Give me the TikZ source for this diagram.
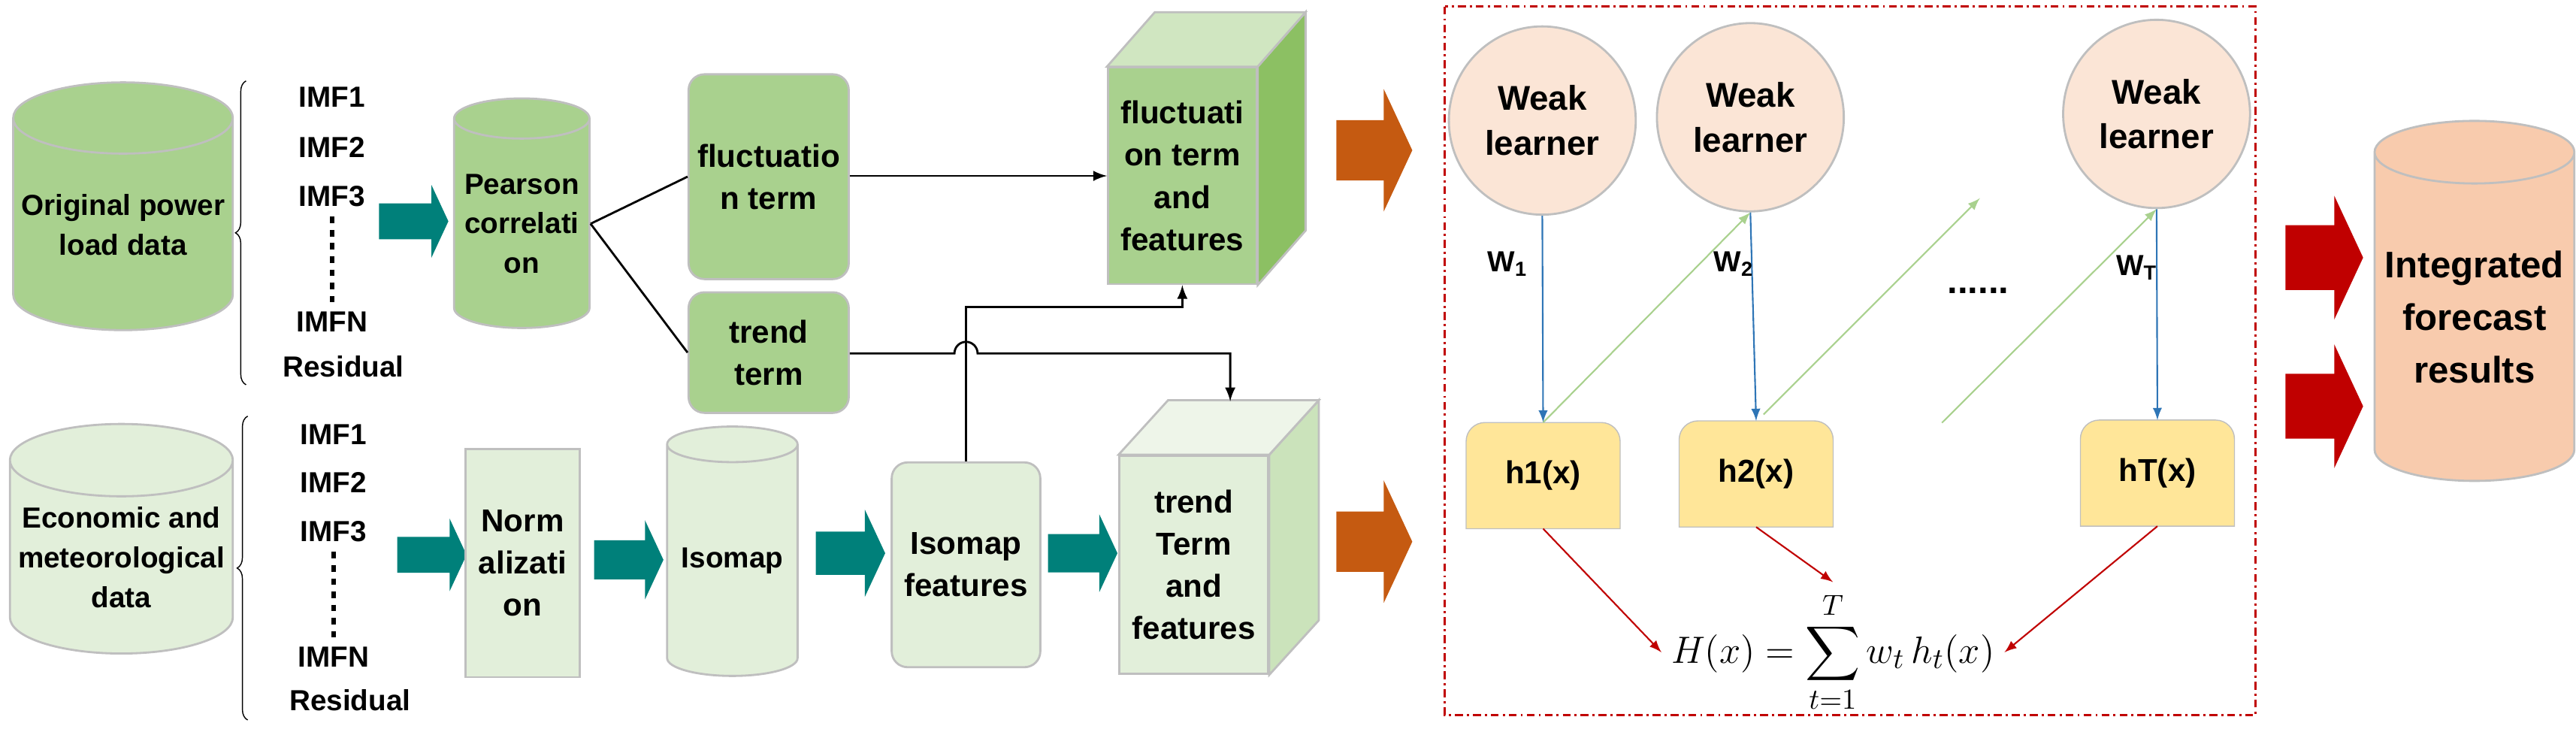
\documentclass[tikz,border=0pt]{standalone}
\usepackage{fontspec}
\setmainfont{Liberation Sans}
\usepackage{amsmath}
\usetikzlibrary{shapes.geometric,shapes.arrows,decorations.pathreplacing,backgrounds,positioning,arrows,calc}
\definecolor{leaf}{HTML}{A9D18E}
\definecolor{mint}{HTML}{E2EFDA}
\definecolor{edge}{HTML}{BFBFBF}
\definecolor{teal}{HTML}{00807A}
\definecolor{rust}{HTML}{C55A11}
\definecolor{crimson}{HTML}{C00000}
\definecolor{peach}{HTML}{FBE5D6}
\definecolor{butter}{HTML}{FFE699}
\definecolor{salmon}{HTML}{F8CBAD}
\definecolor{azure}{HTML}{2E75B6}
\definecolor{moss}{HTML}{8CC063}
\tikzset{
    box/.style={
           draw=edge, fill=#1,
           inner sep=1pt,
           align=center,
           font=\bfseries\fontsize{12}{16}\selectfont
           },
    drum/.style={
           cylinder, shape border rotate=90,
           draw=edge, cylinder uses custom fill,
           cylinder body fill=#1, cylinder end fill=#1,
           inner sep=0pt, aspect=0.35,
           align=center,
           font=\bfseries\fontsize{11}{15}\selectfont
           },
    size/.style 2 args={
           minimum width=#1*0.02197cm,
           minimum height=#2*0.02197cm
           },
    fat/.style={
           single arrow, draw=none, fill=#1,
           inner xsep=0pt,
           single arrow tip angle=130
           },
    imf/.style={
           font=\bfseries\fontsize{11}{13}\selectfont
           }
}
% side and top faces of a box drawn as a cube
\newcommand\cubefaces[5]{%
  \path[fill=#4, draw=edge] (#1.north east) -- ++(#2,-#3) -- ($(#1.south east)+(#2,-#3)$) -- (#1.south east) -- cycle;
  \path[fill=#5, draw=edge] (#1.north west) -- ++(#2,-#3) -- ($(#1.north east)+(#2,-#3)$) -- (#1.north east) -- cycle;
}
\begin{document}
\begin{tikzpicture}[x=0.02197cm, y=-0.02197cm, >=latex, thick]
\useasboundingbox (0,0) rectangle (1560,443);

   % upper branch: power load
   \node[drum=leaf, size={133}{150}] (load) at (74.5,136) {Original power\\load data};
   \draw[thin, decorate, decoration={brace, amplitude=4pt}] (149,233) -- (149,49);
   \node[imf] (a1) at (201,59)  {IMF1};
   \node[imf] (a2) at (201,89)  {IMF2};
   \node[imf] (a3) at (201,119) {IMF3};
   \node[imf] (an) at (201,195) {IMFN};
   \node[imf] (ar) at (208,222) {Residual};
   \draw[line width=1.6pt, dash pattern=on 2.5pt off 2.5pt] (a3.south) -- (an.north);
   \node[fat=teal, size={44}{42}, inner ysep=0.22cm, single arrow head extend=0.24cm] (t1) at (248,134) {};
   \node[drum=leaf, size={82}{139}] (pear) at (316,135.5) {Pearson\\correlati\\on};
   \node[box=leaf, rounded corners=6pt, size={97}{124}] (fluct) at (465.5,107) {fluctuatio\\n term};
   \node[box=leaf, rounded corners=6pt, size={97}{73}] (trend) at (465.5,213.5) {trend\\term};
   \node[box=leaf, size={90}{131}] (ff) at (716,106.5) {fluctuati\\on term\\and\\features};
   \cubefaces{ff}{29}{33}{moss}{leaf!55!white}

   % lower branch: economic and meteorological data
   \node[drum=mint, size={135}{139}] (econ) at (73.5,337.5) {Economic and\\meteorological\\data};
   \draw[thin, decorate, decoration={brace, amplitude=4pt}] (150,436) -- (150,252);
   \node[imf] (b1) at (202,263) {IMF1};
   \node[imf] (b2) at (202,292) {IMF2};
   \node[imf] (b3) at (202,322) {IMF3};
   \node[imf] (bn) at (202,398) {IMFN};
   \node[imf] (br) at (212,424) {Residual};
   \draw[line width=1.6pt, dash pattern=on 2.5pt off 2.5pt] (b3.south) -- (bn.north);
   \node[fat=teal, size={44}{42}, inner ysep=0.22cm, single arrow head extend=0.24cm] (t2) at (259,336) {};
   \node[box=mint, size={69}{138}] (norm) at (316.5,341) {Norm\\alizati\\on};
   \node[fat=teal, size={48}{42}, inner ysep=0.22cm, single arrow head extend=0.24cm] (t3) at (378,339) {};
   \node[drum=mint, size={79}{151}] (iso) at (443.5,339.5) {Isomap};
   \node[fat=teal, size={53}{42}, inner ysep=0.22cm, single arrow head extend=0.24cm] (t4) at (512,335) {};
   \node[box=mint, rounded corners=6pt, size={90}{124}] (isof) at (585,342) {Isomap\\features};
   \node[fat=teal, size={47}{42}, inner ysep=0.22cm, single arrow head extend=0.24cm] (t5) at (653,335) {};
   \node[box=mint, size={90}{132}] (tf) at (723,342) {trend\\Term\\and\\features};
   \cubefaces{tf}{30}{33}{leaf!60!white}{mint!60!white}

   \node[fat=rust, size={74}{46}, inner ysep=0.24cm, single arrow head extend=0.26cm] (o1) at (828,91) {};
   \node[fat=rust, size={74}{46}, inner ysep=0.24cm, single arrow head extend=0.26cm] (o2) at (828,328) {};

   % connectors of the two branches
   \coordinate (ttop) at (745,243);
   \coordinate (hopL) at (578,214);
   \coordinate (bend) at (585,186);
   \draw (pear.east) -- (fluct.west);
   \draw (pear.east) -- (trend.west);
   \draw[->] (fluct.east |- ff.west) -- (ff.west);
   \draw[->] (trend.east |- hopL) -- (hopL) arc[start angle=180, end angle=0, radius=0.154cm] -| (ttop);
   \draw[->] (isof.north) -- (bend) -| (ff.south);

   % boosting ensemble
   \draw[crimson, dash pattern=on 3pt off 1.5pt on 0.8pt off 1.5pt] (875,4) rectangle (1366,433);
   \foreach \n/\x/\y in {wl1/934/73, wl2/1060/71, wl3/1306/69}
     \node[ellipse, draw=edge, fill=peach, size={112}{114}, align=center,
           font=\bfseries\fontsize{13}{17}\selectfont] (\n) at (\x,\y) {Weak\\learner};
   \foreach \n/\x/\y/\t in {h1/934.5/288/h1(x), h2/1063.5/287/h2(x), hT/1306.5/286.5/hT(x)}
     \node[font=\bfseries\fontsize{12}{15}\selectfont, size={92}{63}] (\n) at (\x,\y) {\t};
   \begin{scope}[on background layer]
     \foreach \n in {h1,h2,hT}
       \path[fill=butter, draw=edge, thin] (\n.south west) [rounded corners=0.25cm] -- (\n.north west) -- (\n.north east) [sharp corners] -- (\n.south east) -- cycle;
   \end{scope}
   \foreach \a/\b in {wl1/h1, wl2/h2, wl3/hT}
     \draw[->, azure, semithick] (\a.south) -- (\b.north);
   \node[imf] (w1) at (913,160) {W$_{\text{1}}$};
   \node[imf] (w2) at (1050,160) {W$_{\text{2}}$};
   \node[imf] (wT) at (1294,162) {W$_{\text{T}}$};
   \coordinate (g2s) at (1068,251);
   \coordinate (g2e) at (1199,120);
   \coordinate (g3s) at (1176,256);
   \draw[->, leaf, semithick] (h1.north) -- (wl2.south);
   \draw[->, leaf, semithick] (g2s) -- (g2e);
   \draw[->, leaf, semithick] (g3s) -- (wl3.south);
   \node[font=\bfseries\fontsize{14}{14}\selectfont] (dots) at (1198,176) {......};
   \node[font=\fontsize{15}{18}\selectfont] (Hx) at (1110,395) {$\displaystyle H(x)=\sum_{t=1}^{T}w_t\,h_t(x)$};
   \draw[->, crimson, semithick] (h1.south) -- (Hx.west);
   \draw[->, crimson, semithick] (h2.south) -- (Hx.north);
   \draw[->, crimson, semithick] (hT.south) -- (Hx.east);

   % output
   \node[fat=crimson, size={75}{47}, inner ysep=0.26cm, single arrow head extend=0.25cm] (r1) at (1403,156) {};
   \node[fat=crimson, size={75}{47}, inner ysep=0.26cm, single arrow head extend=0.25cm] (r2) at (1403,246) {};
   \node[drum=salmon, size={121}{218}, font=\bfseries\fontsize{14}{20}\selectfont] (out) at (1498.5,192) {Integrated\\forecast\\results};
\end{tikzpicture}
\end{document}
